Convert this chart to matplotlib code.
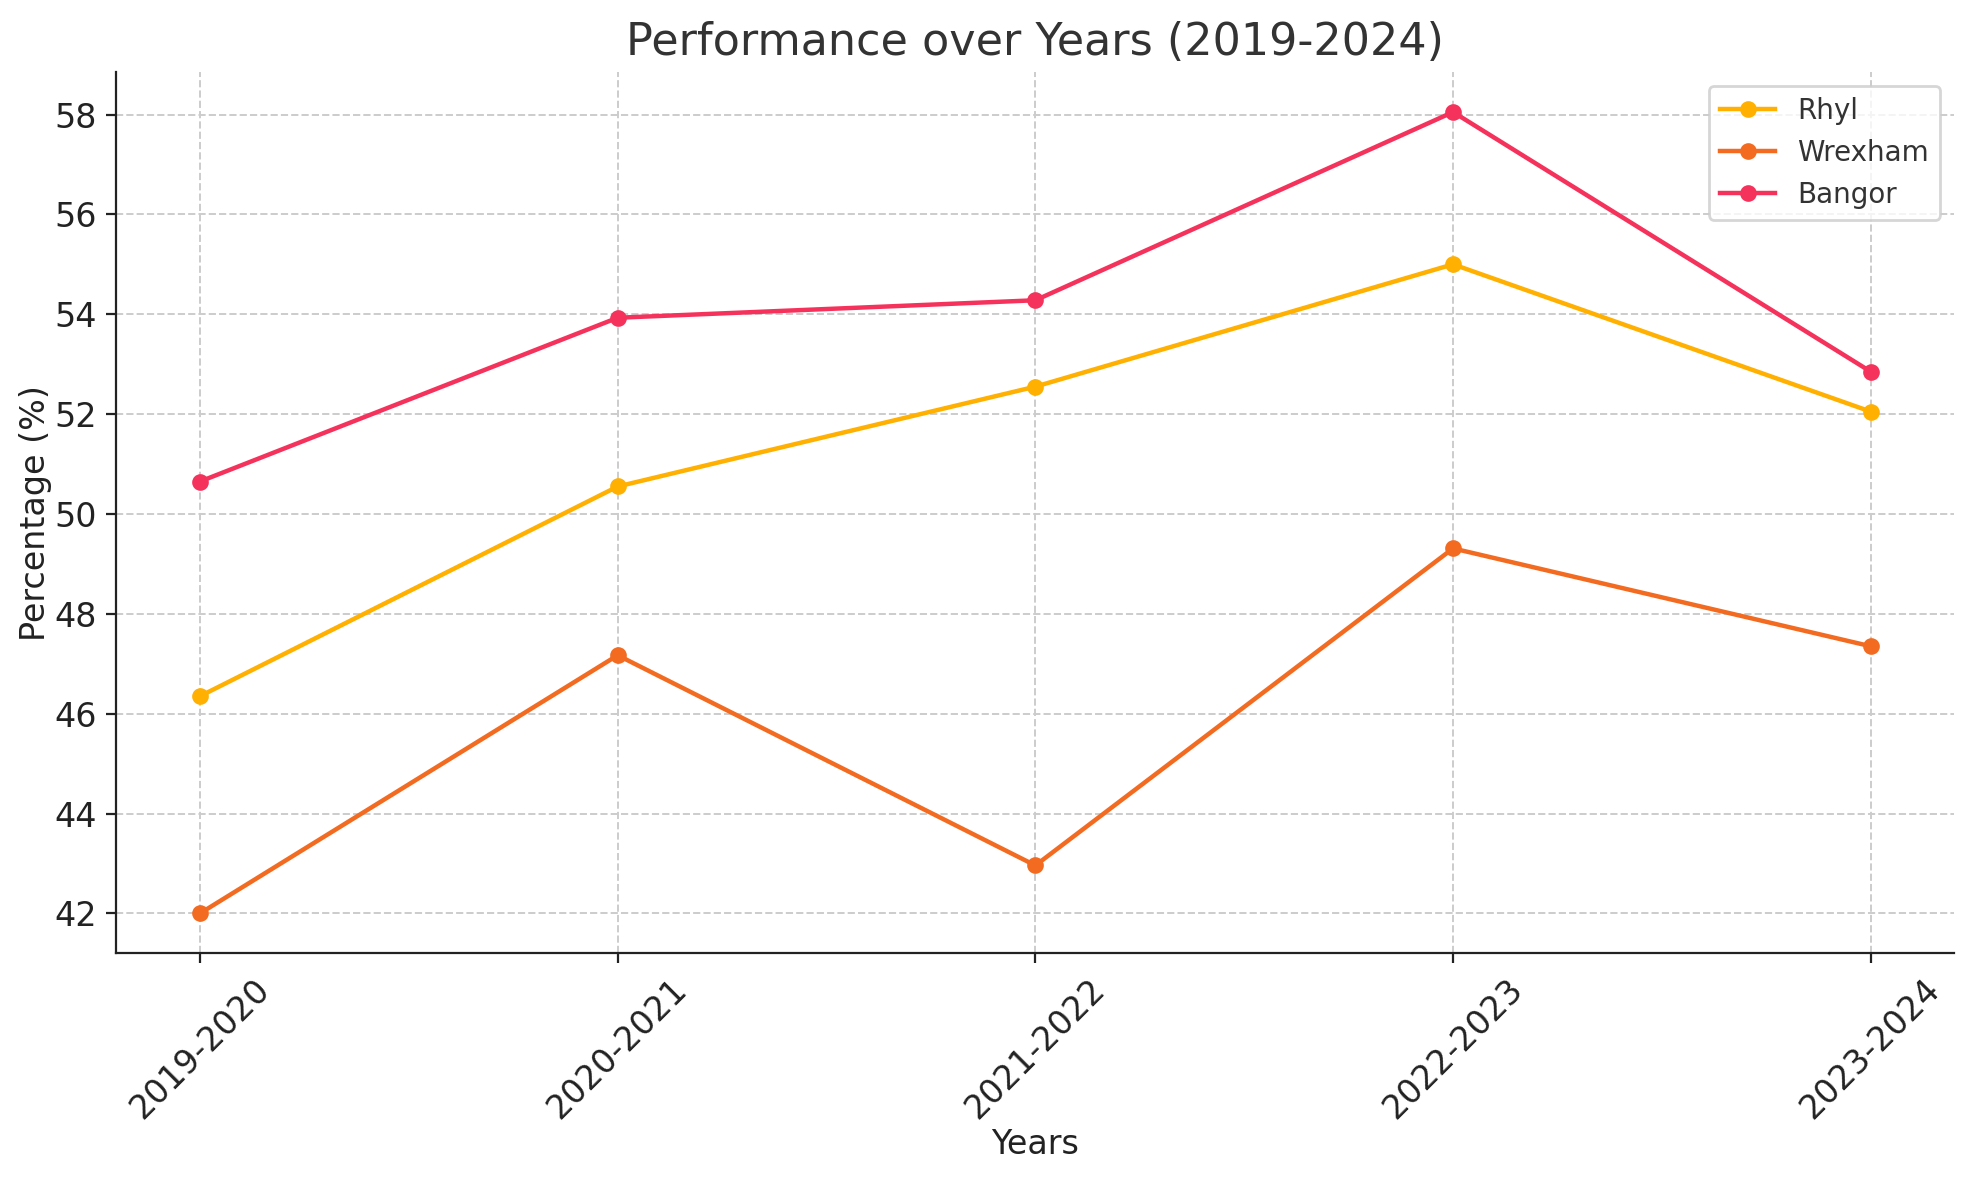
import matplotlib
matplotlib.use("Agg")
import matplotlib.pyplot as plt

# data
years = ["2019-2020", "2020-2021", "2021-2022", "2022-2023", "2023-2024"]
rhyl = [46.35, 50.55, 52.55, 55.0, 52.05]
wrexham = [42.0, 47.17, 42.96, 49.31, 47.35]
bangor = [50.65, 53.93, 54.28, 58.05, 52.85]

plt.rcParams['font.family'] = ['DejaVu Sans']
plt.rcParams['text.color'] = '#333333'
plt.rcParams['axes.labelcolor'] = '#222222'
plt.rcParams['xtick.color'] = '#222222'
plt.rcParams['ytick.color'] = '#222222'

fig, ax = plt.subplots(figsize=(9.87, 5.9), dpi=200)

ax.plot(years, rhyl, marker='o', color='#FFB000', linewidth=1.6, markersize=5, label='Rhyl')
ax.plot(years, wrexham, marker='o', color='#F26B21', linewidth=1.6, markersize=5, label='Wrexham')
ax.plot(years, bangor, marker='o', color='#F5325B', linewidth=1.6, markersize=5, label='Bangor')

ax.set_title("Performance over Years (2019-2024)", fontsize=16)
ax.set_xlabel("Years", fontsize=12, labelpad=0.8)
ax.set_ylabel("Percentage (%)", fontsize=12, labelpad=0.8)
ax.tick_params(axis='x', labelsize=12, rotation=45)
ax.tick_params(axis='y', labelsize=12)
ax.grid(True, linestyle='--', color='#cccccc', linewidth=0.7)
ax.spines['top'].set_visible(False)
ax.spines['right'].set_visible(False)
ax.spines['left'].set_color('#222222')
ax.spines['bottom'].set_color('#222222')
leg = ax.legend(loc='upper right', fontsize=10)
leg.get_frame().set_edgecolor('#cccccc')

fig.subplots_adjust(left=0.059, right=0.99, top=0.939, bottom=0.192)
plt.savefig("out.png", dpi=200)
